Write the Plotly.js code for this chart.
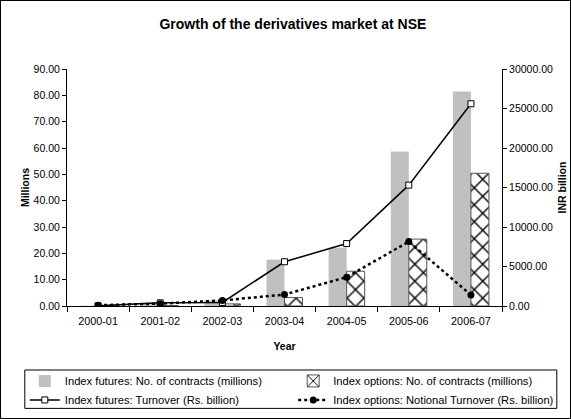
<!DOCTYPE html>
<html>
<head>
<meta charset="utf-8">
<script src="https://cdn.plot.ly/plotly-3.0.1.min.js"></script>
<style>
html,body{margin:0;padding:0;background:#fff;}
#chart{width:569px;height:417px;border:1px solid #000;}
</style>
</head>
<body>
<div id="chart"></div>
<script>
const years = ["2000-01","2001-02","2002-03","2003-04","2004-05","2005-06","2006-07"];
const futuresContracts = [0.1, 1.0, 2.1, 17.6, 22.1, 58.7, 81.5];
const optionsContracts = [0.0, 0.2, 0.8, 3.2, 13.2, 25.4, 50.4];
const futuresTurnover = [25, 400, 450, 5600, 7900, 15300, 25600];
const optionsTurnover = [100, 300, 700, 1450, 3650, 8150, 1400];

const font = "Liberation Sans, Arial, sans-serif";

const traces = [
  {
    type: "bar", x: years, y: futuresContracts,
    name: "Index futures: No. of contracts (millions)",
    marker: {color: "#C0C0C0", line: {width: 0}},
    yaxis: "y", legend: "legend", hoverinfo: "skip"
  },
  {
    type: "bar", x: years, y: optionsContracts,
    name: "Index options: No. of contracts (millions)",
    marker: {color: "#FFFFFF", line: {color: "#555", width: 1},
      pattern: {shape: "x", fgcolor: "#000", bgcolor: "#fff", size: 12, solidity: 0.22}},
    yaxis: "y", legend: "legend2", hoverinfo: "skip"
  },
  {
    type: "scatter", mode: "lines+markers", x: years, y: futuresTurnover,
    name: "Index futures: Turnover (Rs. billion)",
    line: {color: "#000", width: 1.5},
    marker: {symbol: "square", size: 6, color: "#fff", line: {color: "#000", width: 1}},
    yaxis: "y2", legend: "legend", hoverinfo: "skip"
  },
  {
    type: "scatter", mode: "lines+markers", x: years, y: optionsTurnover,
    name: "Index options: Notional Turnover (Rs. billion)",
    line: {color: "#000", width: 2.5, dash: "dot"},
    marker: {symbol: "circle", size: 7, color: "#000"},
    yaxis: "y2", legend: "legend2", hoverinfo: "skip"
  }
];

const legendCommon = {
  orientation: "v", xanchor: "left", yanchor: "top", y: -0.255,
  borderwidth: 0, bgcolor: "rgba(0,0,0,0)",
  font: {size: 11.2, family: font}, traceorder: "normal",
  tracegroupgap: 0, itemwidth: 30
};

const layout = {
  width: 569, height: 417,
  margin: {l: 66, r: 68, t: 68, b: 112, autoexpand: false},
  paper_bgcolor: "#fff", plot_bgcolor: "#fff",
  font: {family: font, size: 10.5, color: "#000"},
  title: {text: "<b>Growth of the derivatives market at NSE</b>", x: 0.513, xanchor: "center", y: 0.945, yanchor: "middle", font: {size: 14, family: font}},
  barmode: "group", bargap: 0.42, bargroupgap: 0,
  showlegend: true,
  legend: Object.assign({}, legendCommon, {x: -0.097}),
  legend2: Object.assign({}, legendCommon, {x: 0.52}),
  shapes: [{
    type: "rect", xref: "paper", yref: "paper",
    x0: -0.097, x1: 1.126, y0: -0.432, y1: -0.27,
    line: {color: "#000", width: 1}, fillcolor: "rgba(0,0,0,0)", layer: "below"
  }],
  xaxis: {
    type: "category", showline: true, linecolor: "#000", linewidth: 1,
    ticks: "outside", ticklen: 5, tickcolor: "#000", tickson: "boundaries",
    ticklabelstandoff: 5, tickfont: {size: 10.8},
    showgrid: false, zeroline: false, fixedrange: true,
    title: {text: "<b>Year</b>", font: {size: 10.5}, standoff: 16}
  },
  yaxis: {
    range: [0, 90], dtick: 10, tickformat: ".2f",
    showline: true, linecolor: "#000", linewidth: 1,
    ticks: "outside", ticklen: 4, tickcolor: "#000",
    showgrid: false, zeroline: false,
    title: {text: "<b>Millions</b>", font: {size: 10.5}, standoff: 1}
  },
  yaxis2: {
    range: [0, 30000], dtick: 5000, tickformat: ".2f",
    overlaying: "y", side: "right",
    showline: true, linecolor: "#000", linewidth: 1,
    ticks: "outside", ticklen: 4, tickcolor: "#000",
    showgrid: false, zeroline: false,
    title: {text: "<b>INR billion</b>", font: {size: 10.5}, standoff: 6}
  }
};

Plotly.newPlot("chart", traces, layout, {displayModeBar: false, staticPlot: true});
</script>
</body>
</html>
